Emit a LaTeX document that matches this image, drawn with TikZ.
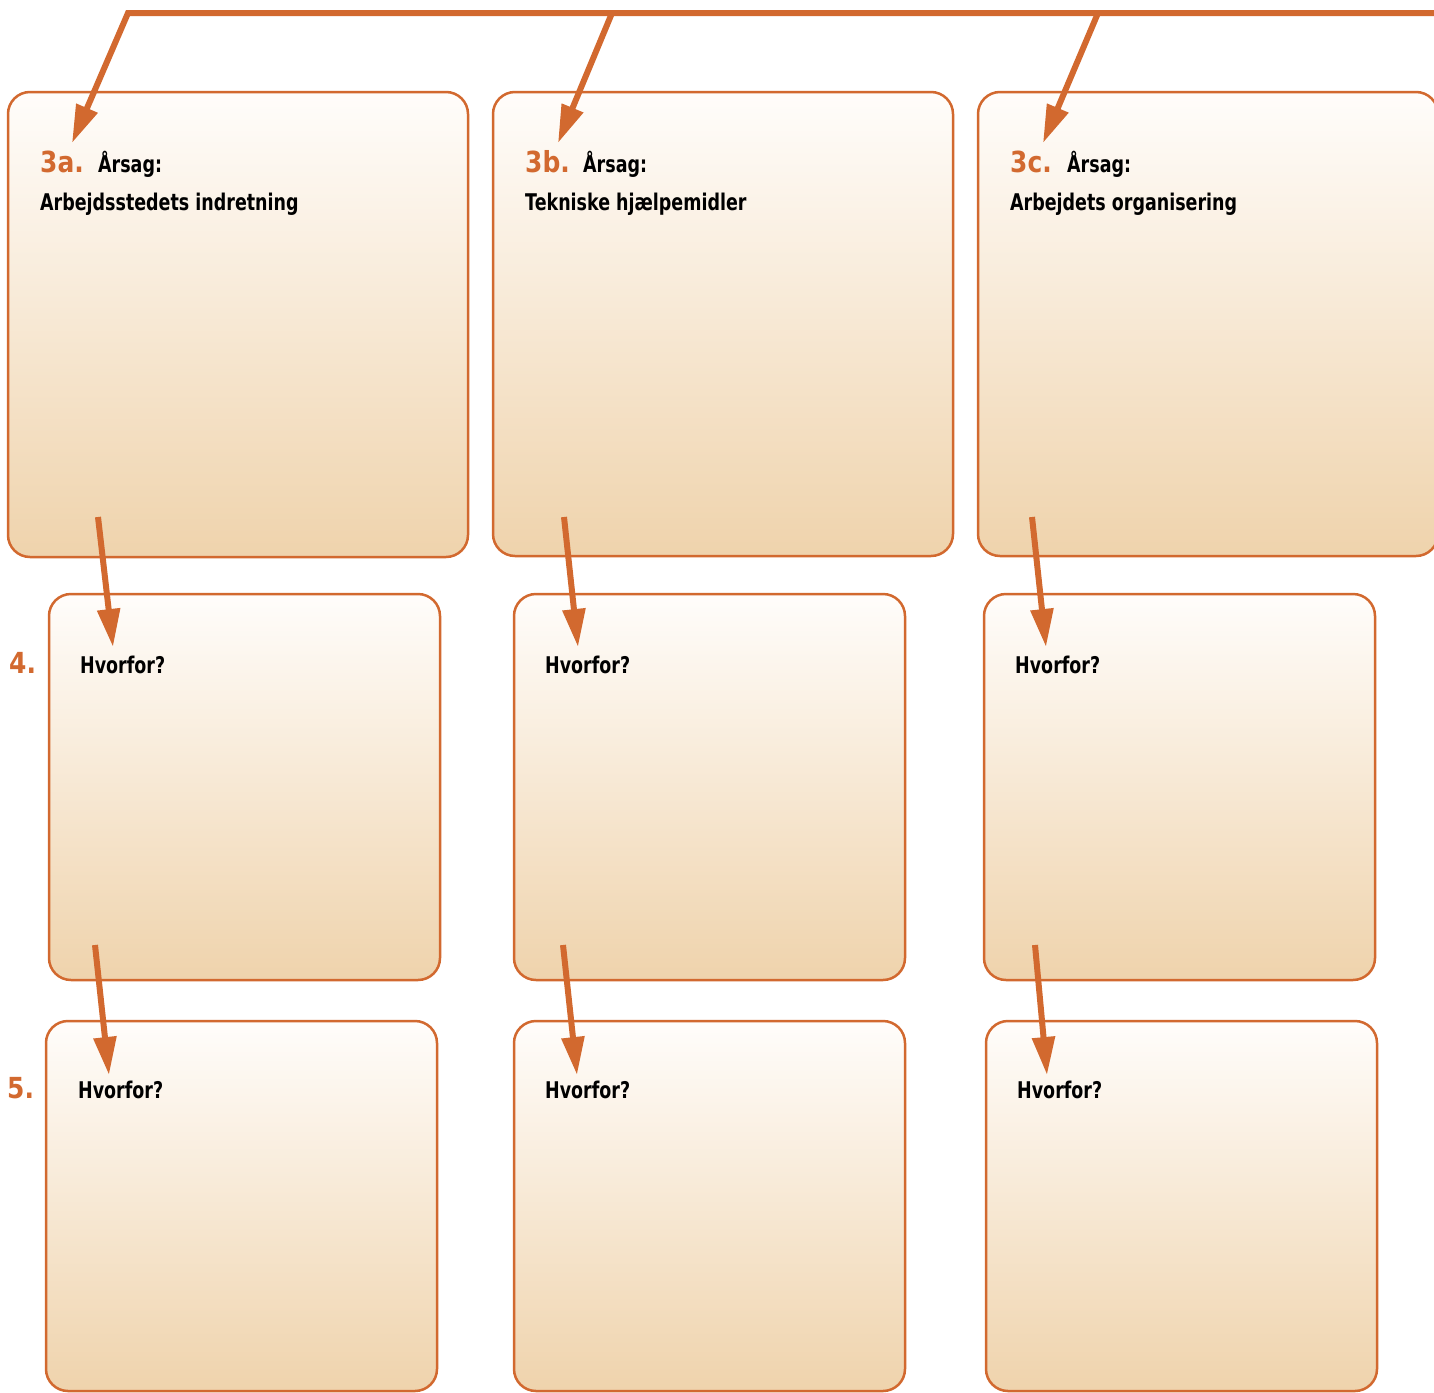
\documentclass[tikz,border=0pt]{standalone}
\usepackage{fontspec}
\setmainfont{DejaVu Sans}[FakeStretch=0.76]
\newfontfamily\numfont{DejaVu Sans}[FakeStretch=0.86]
\usetikzlibrary{arrows.meta}
\definecolor{rust}{HTML}{D2692F}
\definecolor{boxtop}{HTML}{FFFDFB}
\definecolor{boxbot}{HTML}{EFD3AC}
\tikzset{
	box/.style={draw=rust, line width=2.5pt, rounded corners=22pt, top color=boxtop, bottom color=boxbot, anchor=north west, inner sep=0pt, outer sep=0pt},
	pointer/.style={draw=rust, line width=6pt, line join=miter, -{Triangle[length=38pt,width=22pt]}},
	txt/.style={anchor=base west, inner sep=0pt, font=\bfseries\fontsize{23}{27}\selectfont},
	num/.style={anchor=base west, inner sep=0pt, text=rust, font=\numfont\bfseries\fontsize{29}{33}\selectfont},
}

\begin{document}
\begin{tikzpicture}[x=1pt, y=-1pt]
		%%%%% START %%%%%
		\useasboundingbox (0, 0) rectangle (1434, 1392);
		
		% row 3: causes
		\node[box, minimum width=460pt, minimum height=465pt] (causea) at (8, 92) {};
		\node[box, minimum width=460pt, minimum height=464pt] (causeb) at (493, 92) {};
		\node[box, minimum width=460pt, minimum height=464pt] (causec) at (978, 92) {};
		
		% row 4
		\node[box, minimum width=391pt, minimum height=386pt] (whya) at (49, 594) {};
		\node[box, minimum width=391pt, minimum height=386pt] (whyb) at (514, 594) {};
		\node[box, minimum width=391pt, minimum height=386pt] (whyc) at (984, 594) {};
		
		% row 5
		\node[box, minimum width=391pt, minimum height=370pt] (whyya) at (46, 1021) {};
		\node[box, minimum width=391pt, minimum height=370pt] (whyyb) at (514, 1021) {};
		\node[box, minimum width=391pt, minimum height=370pt] (whyyc) at (986, 1021) {};
		
		% texts
		\node[num] (numa) at (40, 172) {3a.};
		\node[txt] (headera) at (98, 172) {Årsag:};
		\node[txt] (titlea) at (40, 210) {Arbejdsstedets indretning};
		\node[num] (numb) at (525, 172) {3b.};
		\node[txt] (headerb) at (583, 172) {Årsag:};
		\node[txt] (titleb) at (525, 210) {Tekniske hjælpemidler};
		\node[num] (numc) at (1010, 172) {3c.};
		\node[txt] (headerc) at (1067, 172) {Årsag:};
		\node[txt] (titlec) at (1010, 210) {Arbejdets organisering};
		
		\node[num] (numfour) at (9, 673) {4.};
		\node[txt] (qa) at (80, 673) {Hvorfor?};
		\node[txt] (qb) at (545, 673) {Hvorfor?};
		\node[txt] (qc) at (1015, 673) {Hvorfor?};
		
		\node[num] (numfive) at (7, 1098) {5.};
		\node[txt] (qqa) at (78, 1098) {Hvorfor?};
		\node[txt] (qqb) at (545, 1098) {Hvorfor?};
		\node[txt] (qqc) at (1017, 1098) {Hvorfor?};
		
		% arrows
		\coordinate (railend) at (1440, 13);
		\coordinate (railstart) at (128, 13);
		\coordinate (forkb) at (612, 13);
		\coordinate (forkc) at (1098, 13);
		\coordinate (tipa) at (72, 143);
		\coordinate (tipb) at (558, 143);
		\coordinate (tipc) at (1043, 143);
		\draw[pointer] (railend) -- (railstart) -- (tipa);
		\draw[pointer] (forkb) -- (tipb);
		\draw[pointer] (forkc) -- (tipc);
		
		\coordinate (fromca) at (98, 517);
		\coordinate (fromcb) at (564, 517);
		\coordinate (fromcc) at (1032, 517);
		\coordinate (towa) at (113, 647);
		\coordinate (towb) at (578, 647);
		\coordinate (towc) at (1046, 647);
		\draw[pointer] (fromca) -- (towa);
		\draw[pointer] (fromcb) -- (towb);
		\draw[pointer] (fromcc) -- (towc);
		
		\coordinate (fromwa) at (95, 945);
		\coordinate (fromwb) at (563, 945);
		\coordinate (fromwc) at (1035, 945);
		\coordinate (towwa) at (109, 1075);
		\coordinate (towwb) at (577, 1075);
		\coordinate (towwc) at (1047, 1075);
		\draw[pointer] (fromwa) -- (towwa);
		\draw[pointer] (fromwb) -- (towwb);
		\draw[pointer] (fromwc) -- (towwc);
		
		%%%%% END %%%%%
\end{tikzpicture}
\end{document}
